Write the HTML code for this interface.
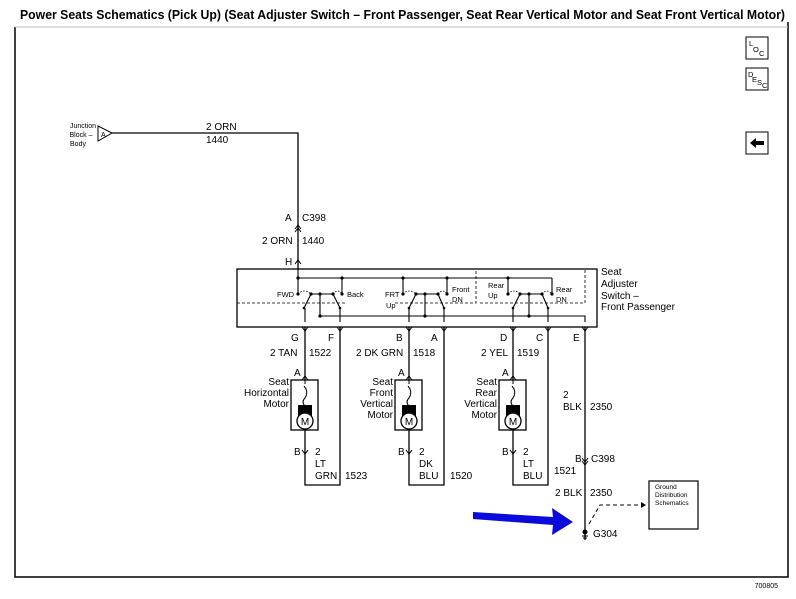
<!DOCTYPE html>
<html><head><meta charset="utf-8"><style>
html,body{margin:0;padding:0;background:#fff;}
svg{display:block;font-family:"Liberation Sans",Arial,sans-serif;}
</style></head><body>
<svg width="796" height="599" viewBox="0 0 796 599" xmlns="http://www.w3.org/2000/svg">
<text x="20" y="19" font-size="12.5" font-weight="bold" textLength="765" lengthAdjust="spacingAndGlyphs">Power Seats Schematics (Pick Up) (Seat Adjuster Switch – Front Passenger, Seat Rear Vertical Motor and Seat Front Vertical Motor)</text>
<path d="M15,27 V577 H788 V22" fill="none" stroke="#000" stroke-width="1.5"/>
<path d="M15,27 H788" fill="none" stroke="#bbb" stroke-width="1"/>
<g fill="#fff" stroke="#000" stroke-width="1">
<rect x="746" y="37" width="22" height="22"/>
<rect x="746" y="68" width="22" height="22"/>
<rect x="746" y="132" width="22" height="22"/>
</g>
<g font-size="7.5">
<text x="749" y="46">L</text><text x="753" y="52">O</text><text x="759" y="56">C</text>
<text x="748" y="77">D</text><text x="752" y="82">E</text><text x="757" y="85">S</text><text x="762" y="88">C</text>
</g>
<path d="M750,143 L756,138 V141 H764 V145 H756 V148 z" fill="#000"/>

<g font-size="7">
<text x="83" y="128" text-anchor="middle">Junction</text>
<text x="81" y="137" text-anchor="middle">Block –</text>
<text x="78" y="146" text-anchor="middle">Body</text>
</g>
<path d="M98,126 L112,133 L98,141 z" fill="#fff" stroke="#000"/>
<text x="101" y="137" font-size="7">A</text>
<g stroke="#000" stroke-width="1.3" fill="none">
<path d="M112,133 H298 V269"/>
</g>
<g font-size="10">
<text x="206" y="130">2 ORN</text>
<text x="206" y="143">1440</text>
<text x="285" y="221">A</text><text x="302" y="221">C398</text>
<text x="262" y="244">2 ORN</text><text x="302" y="244">1440</text>
<text x="285" y="265">H</text>
</g>
<path d="M295,229 L298,225 L301,229 M295,232 L298,228 L301,232" stroke="#000" fill="none"/>
<path d="M295,264 L298,260 L301,264" stroke="#000" fill="none"/>

<rect x="237" y="269" width="360" height="58" fill="none" stroke="#000" stroke-width="1.3"/>
<g font-size="10"><text x="601" y="275">Seat</text><text x="601" y="287">Adjuster</text><text x="601" y="299">Switch –</text><text x="601" y="310">Front Passenger</text></g>
<g stroke="#000" stroke-width="1.1" fill="none">
<path d="M298,269 V294 M298,278 H552 M342,278 V294 M403,278 V294 M447,278 V294 M508,278 V294 M552,278 V294"/>
<path d="M320,294 V316 H585 V322 M425,294 V316 M529,294 V316"/>
<path d="M311,294 H333 M416,294 H438 M520,294 H542"/>
<path d="M311,294 L304,308 M333,294 L340,308 M416,294 L409,308 M438,294 L444,308 M520,294 L513,308 M542,294 L548,308"/>
<path d="M305,308 V322 M340,308 V322 M409,308 V322 M444,308 V322 M513,308 V322 M548,308 V322"/>
</g>
<g stroke="#000" stroke-width="0.8" fill="none" stroke-dasharray="3,2">
<path d="M237,303 H345 M395,303 H476 V269 M480,303 H585 V269"/>
</g>
<g stroke="#000" stroke-width="0.8" fill="none" stroke-dasharray="1.5,1.5">
<path d="M298,294 Q304,288 311,294 M333,294 Q338,288 342,294 M403,294 Q409,288 416,294 M438,294 Q443,288 447,294 M508,294 Q514,288 520,294 M542,294 Q547,288 552,294"/>
</g>
<g fill="#000">
<circle cx="298" cy="278" r="1.6"/><circle cx="342" cy="278" r="1.6"/><circle cx="403" cy="278" r="1.6"/><circle cx="447" cy="278" r="1.6"/><circle cx="508" cy="278" r="1.6"/>
<circle cx="298" cy="294" r="1.6"/><circle cx="342" cy="294" r="1.6"/><circle cx="403" cy="294" r="1.6"/><circle cx="447" cy="294" r="1.6"/><circle cx="508" cy="294" r="1.6"/><circle cx="552" cy="294" r="1.6"/>
<circle cx="311" cy="294" r="1.6"/><circle cx="320" cy="294" r="1.6"/><circle cx="333" cy="294" r="1.6"/>
<circle cx="416" cy="294" r="1.6"/><circle cx="425" cy="294" r="1.6"/><circle cx="438" cy="294" r="1.6"/>
<circle cx="520" cy="294" r="1.6"/><circle cx="529" cy="294" r="1.6"/><circle cx="542" cy="294" r="1.6"/>
<circle cx="320" cy="316" r="1.6"/><circle cx="425" cy="316" r="1.6"/><circle cx="529" cy="316" r="1.6"/>
<circle cx="304" cy="308" r="1.3"/><circle cx="340" cy="308" r="1.3"/><circle cx="409" cy="308" r="1.3"/><circle cx="444" cy="308" r="1.3"/><circle cx="513" cy="308" r="1.3"/><circle cx="548" cy="308" r="1.3"/>
</g>
<g font-size="7.5">
<text x="277" y="297">FWD</text><text x="347" y="297">Back</text>
<text x="385" y="297">FRT</text><text x="386" y="308">Up</text>
<text x="452" y="292">Front</text><text x="452" y="302">DN</text>
<text x="488" y="288">Rear</text><text x="488" y="298">Up</text>
<text x="556" y="292">Rear</text><text x="556" y="302">DN</text>
</g>

<g stroke="#000" stroke-width="1.3" fill="none">
<path d="M305,327 V380 M340,327 V485 H305 V430"/>
<path d="M409,327 V380 M444,327 V485 H409 V430"/>
<path d="M513,327 V380 M548,327 V485 H513 V430"/>
<path d="M585,327 V540"/>
</g>
<g stroke="#000" fill="none" stroke-width="1">
<path d="M302,327 L305,331 L308,327 M337,327 L340,331 L343,327 M406,327 L409,331 L412,327 M441,327 L444,331 L447,327 M510,327 L513,331 L516,327 M545,327 L548,331 L551,327 M582,327 L585,331 L588,327"/>
<path d="M302,380 L305,376 L308,380 M406,380 L409,376 L412,380 M510,380 L513,376 L516,380"/>
<path d="M302,450 L305,454 L308,450 M406,450 L409,454 L412,450 M510,450 L513,454 L516,450"/>
<path d="M582,458 L585,462 L588,458 M582,461 L585,465 L588,461"/>
</g>
<g font-size="10">
<text x="291" y="341">G</text><text x="328" y="341">F</text><text x="396" y="341">B</text><text x="431" y="341">A</text><text x="500" y="341">D</text><text x="536" y="341">C</text><text x="573" y="341">E</text>
<text x="270" y="356">2 TAN</text><text x="309" y="356">1522</text>
<text x="356" y="356">2 DK GRN</text><text x="413" y="356">1518</text>
<text x="481" y="356">2 YEL</text><text x="517" y="356">1519</text>
<text x="294" y="376">A</text><text x="398" y="376">A</text><text x="502" y="376">A</text>
<text x="294" y="455">B</text><text x="398" y="455">B</text><text x="502" y="455">B</text>
</g>
<g id="m">
<rect x="291" y="380" width="27" height="50" fill="none" stroke="#000" stroke-width="1.3"/>
<path d="M305,380 V384 M304,386 Q309,392 305,398 Q301,402 305,406 V430" stroke="#000" fill="none"/>
<rect x="298" y="405" width="14" height="20" fill="#000"/>
<circle cx="305" cy="421" r="8" fill="#fff" stroke="#000" stroke-width="1.3"/>
<text x="305" y="425" font-size="10" text-anchor="middle">M</text>
</g>
<use href="#m" x="104"/><use href="#m" x="208"/>
<g font-size="10" text-anchor="end">
<text x="289" y="385">Seat</text><text x="289" y="396">Horizontal</text><text x="289" y="407">Motor</text>
<text x="393" y="385">Seat</text><text x="393" y="396">Front</text><text x="393" y="407">Vertical</text><text x="393" y="418">Motor</text>
<text x="497" y="385">Seat</text><text x="497" y="396">Rear</text><text x="497" y="407">Vertical</text><text x="497" y="418">Motor</text>
</g>
<g font-size="10">
<text x="315" y="455">2</text><text x="315" y="467">LT</text><text x="315" y="479">GRN</text><text x="345" y="479">1523</text>
<text x="419" y="455">2</text><text x="419" y="467">DK</text><text x="419" y="479">BLU</text><text x="450" y="479">1520</text>
<text x="523" y="455">2</text><text x="523" y="467">LT</text><text x="523" y="479">BLU</text><text x="554" y="474">1521</text>
<text x="563" y="398">2</text><text x="563" y="410">BLK</text><text x="590" y="410">2350</text>
<text x="575" y="462">B</text><text x="591" y="462">C398</text>
<text x="555" y="496">2 BLK</text><text x="590" y="496">2350</text>
<text x="593" y="537">G304</text>
<text x="778" y="588" font-size="7" text-anchor="end">700805</text>
</g>
<circle cx="585" cy="532" r="2.5" fill="#000"/>
<path d="M582,536 H588 M583,538 H587" stroke="#000"/>
<path d="M589,524 L600,505 H645" stroke="#000" stroke-dasharray="4,3" fill="none"/>
<path d="M641,502 L646,505 L641,508 z" fill="#000"/>
<rect x="649" y="481" width="49" height="48" fill="#fff" stroke="#000" stroke-width="1.2"/>
<g font-size="6.5"><text x="655" y="489">Ground</text><text x="655" y="497">Distribution</text><text x="655" y="505">Schematics</text></g>
<path d="M473,512 L553,517 L552,508 L573,522 L552,535 L553,525 L473,519 z" fill="#0a0adc"/>
</svg>
</body></html>
